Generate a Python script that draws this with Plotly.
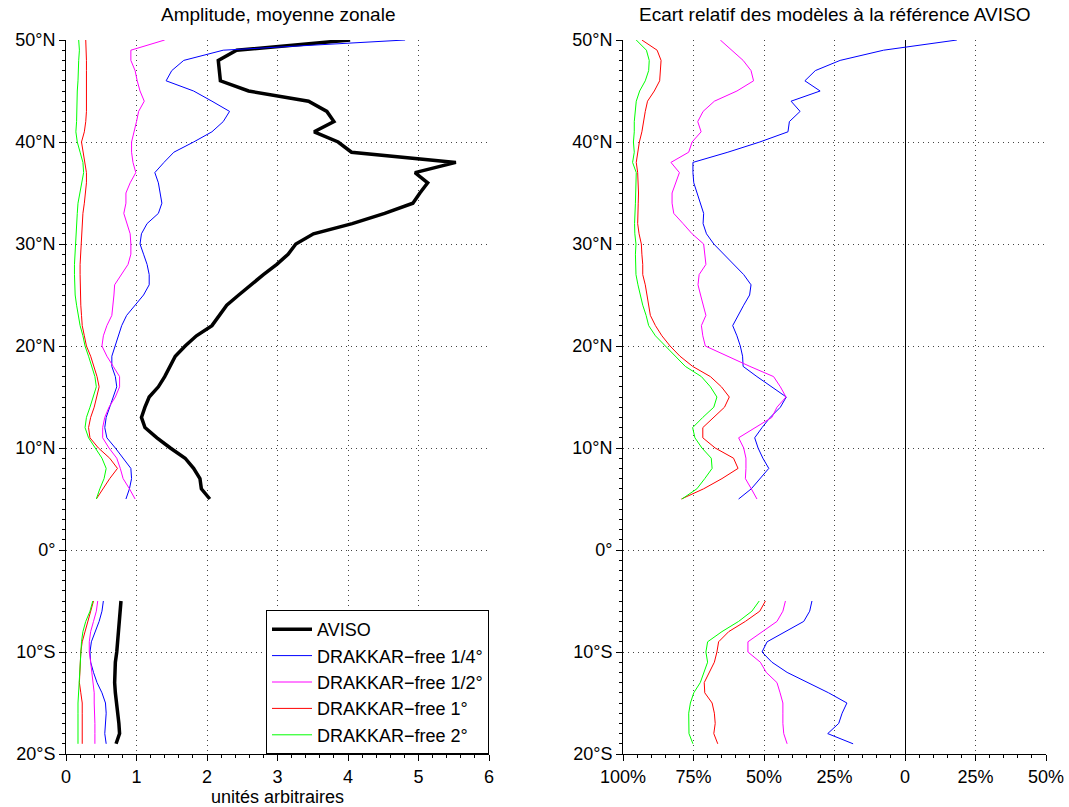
import plotly.graph_objects as go

# ---------------- data ----------------
lat_north = [50, 49, 48, 47, 46, 45, 44, 43, 42, 41,
             40, 39, 38, 37, 36, 35, 34, 33, 32, 31,
             30, 29, 28, 27, 26, 25, 24, 23, 22, 21,
             20, 19, 18, 17, 16, 15, 14, 13, 12, 11,
             10, 9, 8, 7, 6, 5]
lat_south = [-5, -6, -7, -8, -9, -10, -11, -12, -13, -14, -15, -16, -17, -18, -19]

series_names = ["AVISO", "DRAKKAR\u2212free 1/4°", "DRAKKAR\u2212free 1/2°",
                "DRAKKAR\u2212free 1°", "DRAKKAR\u2212free 2°"]
series_colors = ["#000000", "#0000ff", "#ff00ff", "#ff0000", "#00ff00"]

# Left panel: amplitude (arbitrary units)
amp_aviso_n = [4.03, 2.42, 2.16, 2.17, 2.19, 2.59, 3.44, 3.70, 3.80, 3.52,
               3.86, 4.05, 5.53, 4.95, 5.13, 5.02, 4.92, 4.52, 4.06, 3.51,
               3.26, 3.15, 2.99, 2.80, 2.62, 2.45, 2.28, 2.17, 2.07, 1.85,
               1.69, 1.55, 1.48, 1.40, 1.31, 1.18, 1.12, 1.07, 1.12, 1.29,
               1.48, 1.69, 1.81, 1.90, 1.92, 2.04]
amp_aviso_s = [0.78, 0.77, 0.75, 0.74, 0.73, 0.72, 0.70, 0.69, 0.69, 0.70,
               0.72, 0.74, 0.75, 0.76, 0.71]

amp_q4_n = [4.81, 2.23, 1.67, 1.50, 1.42, 1.81, 2.07, 2.32, 2.23, 2.07,
            1.81, 1.53, 1.39, 1.26, 1.31, 1.34, 1.36, 1.31, 1.15, 1.07,
            1.05, 1.10, 1.15, 1.18, 1.18, 1.10, 0.98, 0.86, 0.79, 0.74,
            0.70, 0.65, 0.65, 0.70, 0.72, 0.67, 0.61, 0.57, 0.55, 0.58,
            0.70, 0.81, 0.92, 0.93, 0.90, 0.85]
amp_q4_s = [0.53, 0.51, 0.47, 0.41, 0.36, 0.34, 0.35, 0.39, 0.44, 0.51,
            0.56, 0.57, 0.56, 0.55, 0.57]

amp_h2_n = [1.40, 0.92, 0.92, 0.98, 1.01, 1.05, 1.11, 1.03, 1.00, 0.96,
            0.93, 0.93, 0.95, 0.99, 0.91, 0.85, 0.85, 0.82, 0.86, 0.91,
            0.92, 0.92, 0.88, 0.79, 0.69, 0.68, 0.67, 0.65, 0.58, 0.53,
            0.51, 0.58, 0.67, 0.76, 0.76, 0.70, 0.61, 0.55, 0.52, 0.52,
            0.61, 0.72, 0.77, 0.81, 0.90, 0.98]
amp_h2_s = [0.45, 0.43, 0.39, 0.35, 0.33, 0.33, 0.35, 0.37, 0.39, 0.40,
            0.40, 0.41, 0.41, 0.41, 0.41]

amp_d1_n = [0.28, 0.29, 0.29, 0.29, 0.29, 0.30, 0.30, 0.29, 0.28, 0.26,
            0.22, 0.24, 0.27, 0.29, 0.29, 0.28, 0.26, 0.24, 0.23, 0.22,
            0.21, 0.20, 0.20, 0.20, 0.20, 0.20, 0.21, 0.22, 0.23, 0.26,
            0.29, 0.35, 0.40, 0.44, 0.47, 0.44, 0.40, 0.35, 0.32, 0.34,
            0.46, 0.62, 0.73, 0.62, 0.53, 0.43]
amp_d1_s = [0.39, 0.35, 0.30, 0.26, 0.23, 0.21, 0.20, 0.19, 0.19, 0.21,
            0.23, 0.23, 0.23, 0.23, 0.23]

amp_d2_n = [0.18, 0.19, 0.18, 0.18, 0.17, 0.16, 0.16, 0.15, 0.15, 0.14,
            0.16, 0.20, 0.24, 0.25, 0.22, 0.20, 0.17, 0.16, 0.15, 0.14,
            0.14, 0.13, 0.12, 0.12, 0.12, 0.13, 0.15, 0.17, 0.20, 0.24,
            0.27, 0.32, 0.37, 0.41, 0.43, 0.39, 0.34, 0.29, 0.27, 0.32,
            0.41, 0.51, 0.57, 0.54, 0.48, 0.43]
amp_d2_s = [0.38, 0.34, 0.28, 0.24, 0.22, 0.21, 0.20, 0.19, 0.18, 0.17,
            0.17, 0.17, 0.17, 0.17, 0.17]

# Right panel: relative deviation from AVISO (%)
dev_q4_n = [18.4, -7.6, -23.0, -31.8, -35.5, -30.1, -40.4, -37.2, -41.0, -41.5,
            -51.5, -62.8, -75.2, -75.2, -74.9, -73.8, -72.6, -71.4, -71.6, -70.4,
            -67.8, -64.3, -60.8, -57.2, -54.6, -55.1, -57.2, -59.2, -61.1, -59.6,
            -58.4, -57.6, -57.4, -52.5, -47.2, -42.1, -44.2, -47.8, -50.7, -53.3,
            -52.1, -50.4, -48.3, -51.3, -54.5, -59.0]
dev_q4_s = [-33.0, -33.8, -35.9, -42.4, -48.9, -50.7, -47.2, -41.8, -34.5, -27.1,
            -20.6, -22.3, -23.5, -27.4, -18.4]

dev_h2_n = [-65.5, -61.3, -57.4, -54.6, -53.7, -59.6, -67.6, -71.6, -73.5, -72.3,
            -75.5, -76.7, -83.0, -80.0, -81.4, -82.6, -82.6, -82.0, -78.7, -75.5,
            -71.4, -71.0, -70.6, -73.0, -73.4, -72.5, -71.5, -70.6, -72.2, -71.7,
            -70.8, -63.0, -55.0, -46.6, -44.2, -42.2, -45.4, -47.2, -53.0, -59.0,
            -57.2, -56.4, -56.4, -56.6, -54.5, -52.5]
dev_h2_s = [-42.4, -43.3, -45.4, -50.5, -55.7, -55.7, -51.3, -49.2, -45.4, -44.3,
            -43.3, -43.3, -43.3, -43.0, -41.8]

dev_d1_n = [-93.3, -87.9, -86.5, -86.8, -87.0, -88.9, -91.3, -92.1, -92.7, -93.3,
            -94.2, -94.8, -95.3, -94.8, -94.6, -94.5, -94.6, -94.7, -94.8, -94.3,
            -93.5, -93.3, -93.0, -93.0, -92.1, -91.5, -90.9, -90.3, -88.5, -86.2,
            -83.3, -79.8, -75.3, -69.0, -65.1, -62.3, -64.0, -67.8, -71.7, -71.7,
            -67.3, -60.8, -59.2, -64.9, -71.4, -79.3]
dev_d1_s = [-49.5, -51.5, -56.6, -62.5, -66.1, -66.7, -67.6, -69.4, -71.2, -71.0,
            -68.4, -67.6, -67.3, -67.8, -66.4]

dev_d2_n = [-95.3, -91.7, -90.7, -90.9, -92.1, -94.1, -95.3, -95.7, -96.0, -96.0,
            -96.3, -96.0, -96.6, -95.3, -95.3, -95.5, -95.6, -95.8, -95.9, -95.8,
            -95.4, -95.6, -95.6, -95.4, -94.7, -93.9, -93.0, -91.8, -90.9, -88.5,
            -85.0, -81.7, -77.9, -72.2, -69.0, -66.7, -67.8, -71.7, -75.3, -74.5,
            -72.0, -68.7, -68.4, -71.0, -73.8, -79.1]
dev_d2_s = [-51.7, -54.3, -59.0, -64.9, -70.0, -70.6, -70.0, -71.2, -72.6, -74.9,
            -76.1, -76.7, -76.7, -76.6, -75.2]

left_x_ticks = [0, 1, 2, 3, 4, 5, 6]
right_x_ticks = [-100, -75, -50, -25, 0, 25, 50]
right_x_labels = ["100%", "75%", "50%", "25%", "0", "25%", "50%"]
lat_ticks = [-20, -10, 0, 10, 20, 30, 40, 50]
lat_labels = ["20°S", "10°S", "0°", "10°N", "20°N", "30°N", "40°N", "50°N"]

titles = ["Amplitude, moyenne zonale", "Ecart relatif des modèles à la référence AVISO"]
x_title_left = "unités arbitraires"

# ---------------- figure ----------------
FONT = "Liberation Sans, Arial, Helvetica, sans-serif"
fig = go.Figure()


def joined(north, south):
    return list(north) + [None] + list(south)


lat_all = joined(lat_north, lat_south)

left_series = [(amp_aviso_n, amp_aviso_s), (amp_q4_n, amp_q4_s), (amp_h2_n, amp_h2_s),
               (amp_d1_n, amp_d1_s), (amp_d2_n, amp_d2_s)]
for i, (n, s) in enumerate(left_series):
    fig.add_trace(go.Scatter(
        x=joined(n, s), y=lat_all, mode="lines", name=series_names[i],
        line=dict(color=series_colors[i], width=3.5 if i == 0 else 1),
        connectgaps=False, xaxis="x", yaxis="y", showlegend=True))

right_series = [(dev_q4_n, dev_q4_s), (dev_h2_n, dev_h2_s),
                (dev_d1_n, dev_d1_s), (dev_d2_n, dev_d2_s)]
for i, (n, s) in enumerate(right_series):
    fig.add_trace(go.Scatter(
        x=joined(n, s), y=lat_all, mode="lines", name=series_names[i + 1],
        line=dict(color=series_colors[i + 1], width=1),
        connectgaps=False, xaxis="x2", yaxis="y2", showlegend=False))

W, H = 1069, 807
ML, MR, MT, MB = 66, 23, 40, 53
plot_w = W - ML - MR
d1 = (489 - ML) / plot_w
d2 = (623 - ML) / plot_w

common_axis = dict(
    showline=True, linecolor="black", linewidth=1, mirror=False,
    ticks="outside", ticklen=6, tickcolor="black", tickwidth=1,
    showgrid=True, gridcolor="#444444", gridwidth=1, griddash="1px,4px",
    tickfont=dict(family=FONT, size=18, color="black"),
    fixedrange=True, automargin=False,
)

fig.update_layout(
    template="none",
    width=W, height=H,
    margin=dict(l=ML, r=MR, t=MT, b=MB, pad=0, autoexpand=False),
    paper_bgcolor="white", plot_bgcolor="white",
    font=dict(family=FONT, size=18, color="black"),
    hovermode=False,
    xaxis=dict(common_axis, domain=[0, d1], range=[0, 6], tickvals=left_x_ticks,
               zeroline=False, anchor="y",
               minor=dict(ticks="outside", ticklen=3, dtick=0.2, tickcolor="black", showgrid=False),
               title=dict(text=x_title_left, standoff=2,
                          font=dict(family=FONT, size=18, color="black"))),
    yaxis=dict(common_axis, domain=[0, 1], range=[-20, 50], tickvals=lat_ticks,
               ticktext=lat_labels, zeroline=False, anchor="x",
               minor=dict(ticks="outside", ticklen=3, dtick=1, tickcolor="black", showgrid=False)),
    xaxis2=dict(common_axis, domain=[d2, 1], range=[-100, 50], tickvals=right_x_ticks,
                ticktext=right_x_labels, zeroline=True, zerolinecolor="black",
                zerolinewidth=1, anchor="y2",
                minor=dict(ticks="outside", ticklen=3, dtick=5, tickcolor="black", showgrid=False)),
    yaxis2=dict(common_axis, domain=[0, 1], range=[-20, 50], tickvals=lat_ticks,
                ticktext=lat_labels, zeroline=False, anchor="x2",
                minor=dict(ticks="outside", ticklen=3, dtick=1, tickcolor="black", showgrid=False)),
    legend=dict(x=d1, xanchor="right", y=0, yanchor="bottom",
                bgcolor="white", bordercolor="black", borderwidth=1,
                font=dict(family=FONT, size=18, color="black"),
                tracegroupgap=0, itemwidth=40),
    showlegend=True,
)

for k, t in enumerate(titles):
    cx = d1 / 2 if k == 0 else (d2 + 1) / 2
    fig.add_annotation(text=t, xref="paper", yref="paper", x=cx, y=1,
                       xanchor="center", yanchor="bottom", yshift=13, showarrow=False,
                       font=dict(family=FONT, size=19, color="black"))

fig.write_html("out.html", post_script="document.body.style.margin='0';",
               config={"displayModeBar": False})
